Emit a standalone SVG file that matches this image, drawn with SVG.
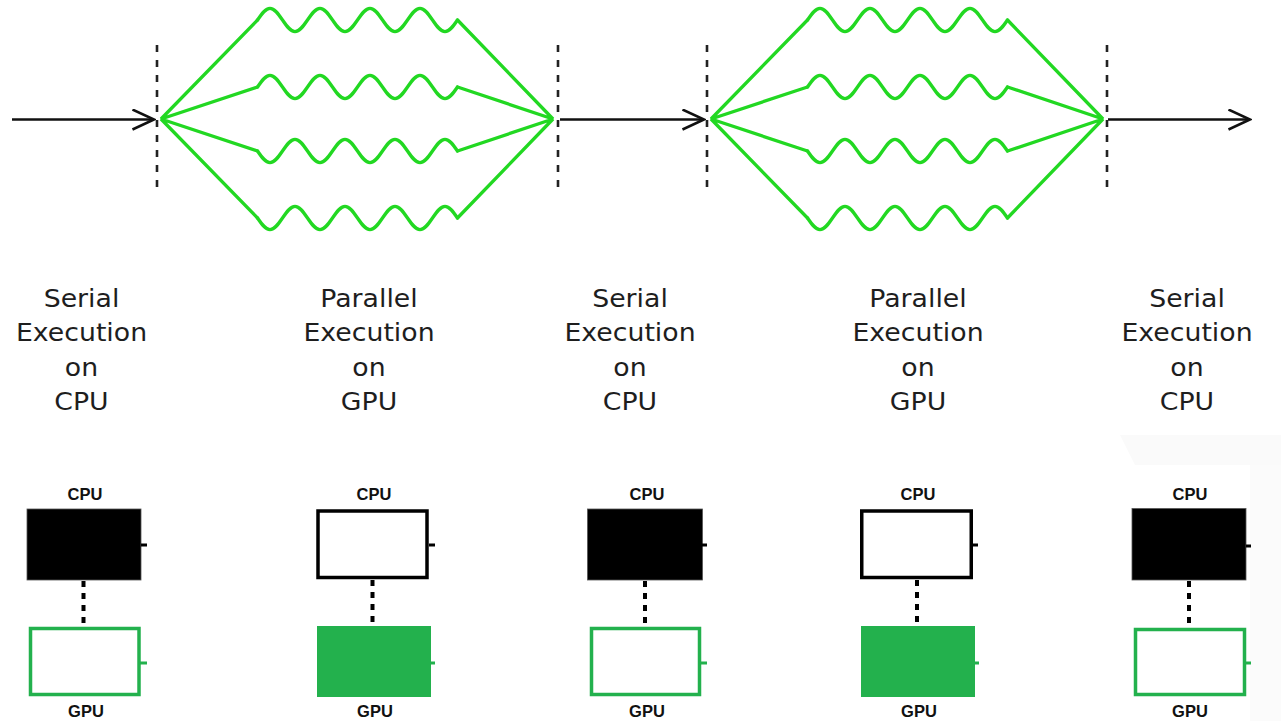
<svg xmlns="http://www.w3.org/2000/svg" xmlns:xlink="http://www.w3.org/1999/xlink" width="1281" height="721" viewBox="0 0 1281 721">
<style>
.wave{fill:none;stroke:#22d822;stroke-width:3.3;stroke-linejoin:miter;stroke-linecap:round}
.arrow{fill:none;stroke:#111;stroke-width:2.5}
.sync{fill:none;stroke:#222;stroke-width:2.6;stroke-dasharray:7 8}
.big{font-family:"DejaVu Sans","Liberation Sans",sans-serif;font-size:25px;fill:#1e1e1e;text-anchor:middle}
.small{font-family:"Liberation Sans",Arial,sans-serif;font-size:16.5px;font-weight:bold;fill:#111;text-anchor:middle}
.cpuOn{fill:#000;stroke:#555;stroke-width:0.8}
.cpuOff{fill:#fff;stroke:#000;stroke-width:3.5}
.gpuOn{fill:#23b14d}
.gpuOff{fill:#fff;stroke:#23b14d;stroke-width:3.5}
.stubK{stroke:#000;stroke-width:3}
.stubG{stroke:#23b14d;stroke-width:3}
.dots{stroke:#000;stroke-width:4;stroke-dasharray:6 6}
</style>
<defs>
<marker id="chev" markerUnits="userSpaceOnUse" viewBox="0 0 24 22" refX="22.5" refY="11" markerWidth="24" markerHeight="22" orient="auto">
<path d="M1,1 L22.5,11 L1,21" fill="none" stroke="#111" stroke-width="2.5"/>
</marker>
<path id="w" d="M0,0 c4.08,-5.99 7.98,-11.7 12.5,-11.7 c4.52,0 8.42,5.71 12.5,11.7 c4.08,5.99 7.98,11.7 12.5,11.7 c4.52,0 8.42,-5.71 12.5,-11.7
c4.08,-5.99 7.98,-11.7 12.5,-11.7 c4.52,0 8.42,5.71 12.5,11.7 c4.08,5.99 7.98,11.7 12.5,11.7 c4.52,0 8.42,-5.71 12.5,-11.7
c4.08,-5.99 7.98,-11.7 12.5,-11.7 c4.52,0 8.42,5.71 12.5,11.7 c4.08,5.99 7.98,11.7 12.5,11.7 c4.52,0 8.42,-5.71 12.5,-11.7
c4.08,-5.99 7.98,-11.7 12.5,-11.7 c4.52,0 8.42,5.71 12.5,11.7 c4.08,5.99 7.98,11.7 12.5,11.7 c4.52,0 8.42,-5.71 12.5,-11.7" class="wave"/>
<g id="fan">
<path class="wave" d="M257.5,20 L161,119 L257.5,87 M257.5,151 L161,119 L257.5,218 M457.5,20 L553,119 L457.5,87 M457.5,151 L553,119 L457.5,218"/>
<use xlink:href="#w" href="#w" transform="translate(257.5,20)"/>
<use xlink:href="#w" href="#w" transform="translate(257.5,87)"/>
<use xlink:href="#w" href="#w" transform="translate(257.5,151) scale(1,-1)"/>
<use xlink:href="#w" href="#w" transform="translate(257.5,218) scale(1,-1)"/>
</g>
</defs>
<rect width="1281" height="721" fill="#fff"/>
<g id="watermark">
<polygon points="1120,435 1281,435 1281,465 1135,465" fill="#fafafa"/>
<rect x="1250" y="465" width="31" height="256" fill="#fbfbfb"/>
</g>

<g id="connectors">
<line class="arrow" x1="12" y1="119.5" x2="154" y2="119.5" marker-end="url(#chev)"/>
<line class="arrow" x1="560" y1="119.5" x2="704" y2="119.5" marker-end="url(#chev)"/>
<line class="arrow" x1="1108" y1="119.5" x2="1250" y2="119.5" marker-end="url(#chev)"/>
<line class="sync" x1="157" y1="45" x2="157" y2="193"/>
<line class="sync" x1="558" y1="45" x2="558" y2="193"/>
<line class="sync" x1="707" y1="45" x2="707" y2="193"/>
<line class="sync" x1="1107" y1="45" x2="1107" y2="193"/>
</g>

<g id="fan1"><use xlink:href="#fan" href="#fan"/></g>
<g id="fan2"><use xlink:href="#fan" href="#fan" transform="translate(550,0)"/></g>

<g id="label1" transform="translate(81.5,0) scale(1.07,1)" class="big">
<text x="0" y="307">Serial</text><text x="0" y="341.5">Execution</text><text x="0" y="376">on</text><text x="0" y="410">CPU</text>
</g>
<g id="label2" transform="translate(369,0) scale(1.07,1)" class="big">
<text x="0" y="307">Parallel</text><text x="0" y="341.5">Execution</text><text x="0" y="376">on</text><text x="0" y="410">GPU</text>
</g>
<g id="label3" transform="translate(630,0) scale(1.07,1)" class="big">
<text x="0" y="307">Serial</text><text x="0" y="341.5">Execution</text><text x="0" y="376">on</text><text x="0" y="410">CPU</text>
</g>
<g id="label4" transform="translate(918,0) scale(1.07,1)" class="big">
<text x="0" y="307">Parallel</text><text x="0" y="341.5">Execution</text><text x="0" y="376">on</text><text x="0" y="410">GPU</text>
</g>
<g id="label5" transform="translate(1187,0) scale(1.07,1)" class="big">
<text x="0" y="307">Serial</text><text x="0" y="341.5">Execution</text><text x="0" y="376">on</text><text x="0" y="410">CPU</text>
</g>

<g id="hw1">
<text class="small" x="85" y="500">CPU</text>
<rect class="cpuOn" x="27" y="509" width="114" height="71"/>
<line class="stubK" x1="141" y1="545" x2="147" y2="545"/>
<line class="dots" x1="83.5" y1="581" x2="83.5" y2="627"/>
<rect class="gpuOff" x="30.5" y="628.5" width="108.5" height="66"/>
<line class="stubG" x1="140" y1="663" x2="147" y2="663"/>
<text class="small" x="86" y="717">GPU</text>
</g>
<g id="hw2">
<text class="small" x="374" y="500">CPU</text>
<rect class="cpuOff" x="318" y="511" width="109" height="66.5"/>
<line class="stubK" x1="429" y1="545" x2="435" y2="545"/>
<line class="dots" x1="372.5" y1="580" x2="372.5" y2="626"/>
<rect class="gpuOn" x="317" y="626" width="114" height="71"/>
<line class="stubG" x1="430" y1="663" x2="435" y2="663"/>
<text class="small" x="375" y="717">GPU</text>
</g>
<g id="hw3">
<text class="small" x="647" y="500">CPU</text>
<rect class="cpuOn" x="587.5" y="509" width="115" height="71"/>
<line class="stubK" x1="702" y1="545" x2="707" y2="545"/>
<line class="dots" x1="645" y1="581" x2="645" y2="627"/>
<rect class="gpuOff" x="591.5" y="628.5" width="108" height="66"/>
<line class="stubG" x1="701" y1="663" x2="707" y2="663"/>
<text class="small" x="647" y="717">GPU</text>
</g>
<g id="hw4">
<text class="small" x="918" y="500">CPU</text>
<rect class="cpuOff" x="861.75" y="511" width="109.5" height="66.5"/>
<line class="stubK" x1="973" y1="545" x2="978" y2="545"/>
<line class="dots" x1="917" y1="580" x2="917" y2="626"/>
<rect class="gpuOn" x="861" y="626" width="114" height="71"/>
<line class="stubG" x1="974" y1="663" x2="979" y2="663"/>
<text class="small" x="919" y="717">GPU</text>
</g>
<g id="hw5">
<text class="small" x="1190" y="500">CPU</text>
<rect class="cpuOn" x="1132" y="508.5" width="114" height="71.5"/>
<line class="stubK" x1="1246" y1="546" x2="1251" y2="546"/>
<line class="dots" x1="1189" y1="581" x2="1189" y2="627"/>
<rect class="gpuOff" x="1135.5" y="629.5" width="109" height="65"/>
<line class="stubG" x1="1245" y1="663" x2="1251" y2="663"/>
<text class="small" x="1190" y="717">GPU</text>
</g>
</svg>
